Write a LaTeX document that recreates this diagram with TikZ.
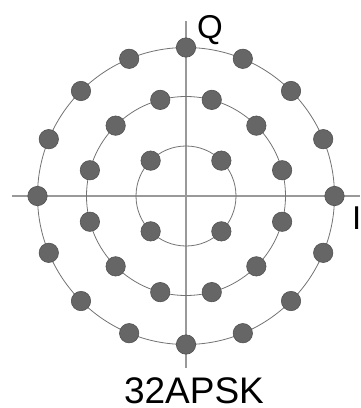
\documentclass[tikz,border=0pt]{standalone}
\usepackage{fontspec}
\setmainfont{Liberation Sans}
\begin{document}
\begin{tikzpicture}[x=1pt,y=-1pt,
  axis/.style={draw=black!40,line width=1.1pt},
  ring/.style={draw=black!55,line width=0.8pt},
  dot/.style={fill=black!60,draw=black!68,line width=0.6pt},
  lbl/.style={font=\fontsize{33}{33}\selectfont,inner sep=0pt}]
\useasboundingbox (0,0) rectangle (360,408);
\coordinate (O) at (186,196);
\coordinate (L) at (12,196);
\coordinate (R) at (360,196);
\coordinate (T) at (186,21);
\coordinate (B) at (186,368);
\draw[axis] (L) -- (R);
\draw[axis] (T) -- (B);
\draw[ring] (O) circle (50);
\draw[ring] (O) circle (99.5);
\draw[ring] (O) circle (148.5);
\foreach \a in {45,135,225,315} \path[dot] (O) ++(-\a:50) circle (9.7);
\foreach \k in {0,...,11} \path[dot] (O) ++(-15-30*\k:99.5) circle (9.7);
\foreach \k in {0,...,15} \path[dot] (O) ++(-22.5*\k:148.5) circle (9.7);
\node[lbl,anchor=base west] (q) at (197,38) {Q};
\node[lbl,anchor=base west] (i) at (352,229) {I};
\node[lbl,font=\fontsize{37}{37}\selectfont,anchor=base] (t) at (194,403) {32APSK};
\end{tikzpicture}
\end{document}
